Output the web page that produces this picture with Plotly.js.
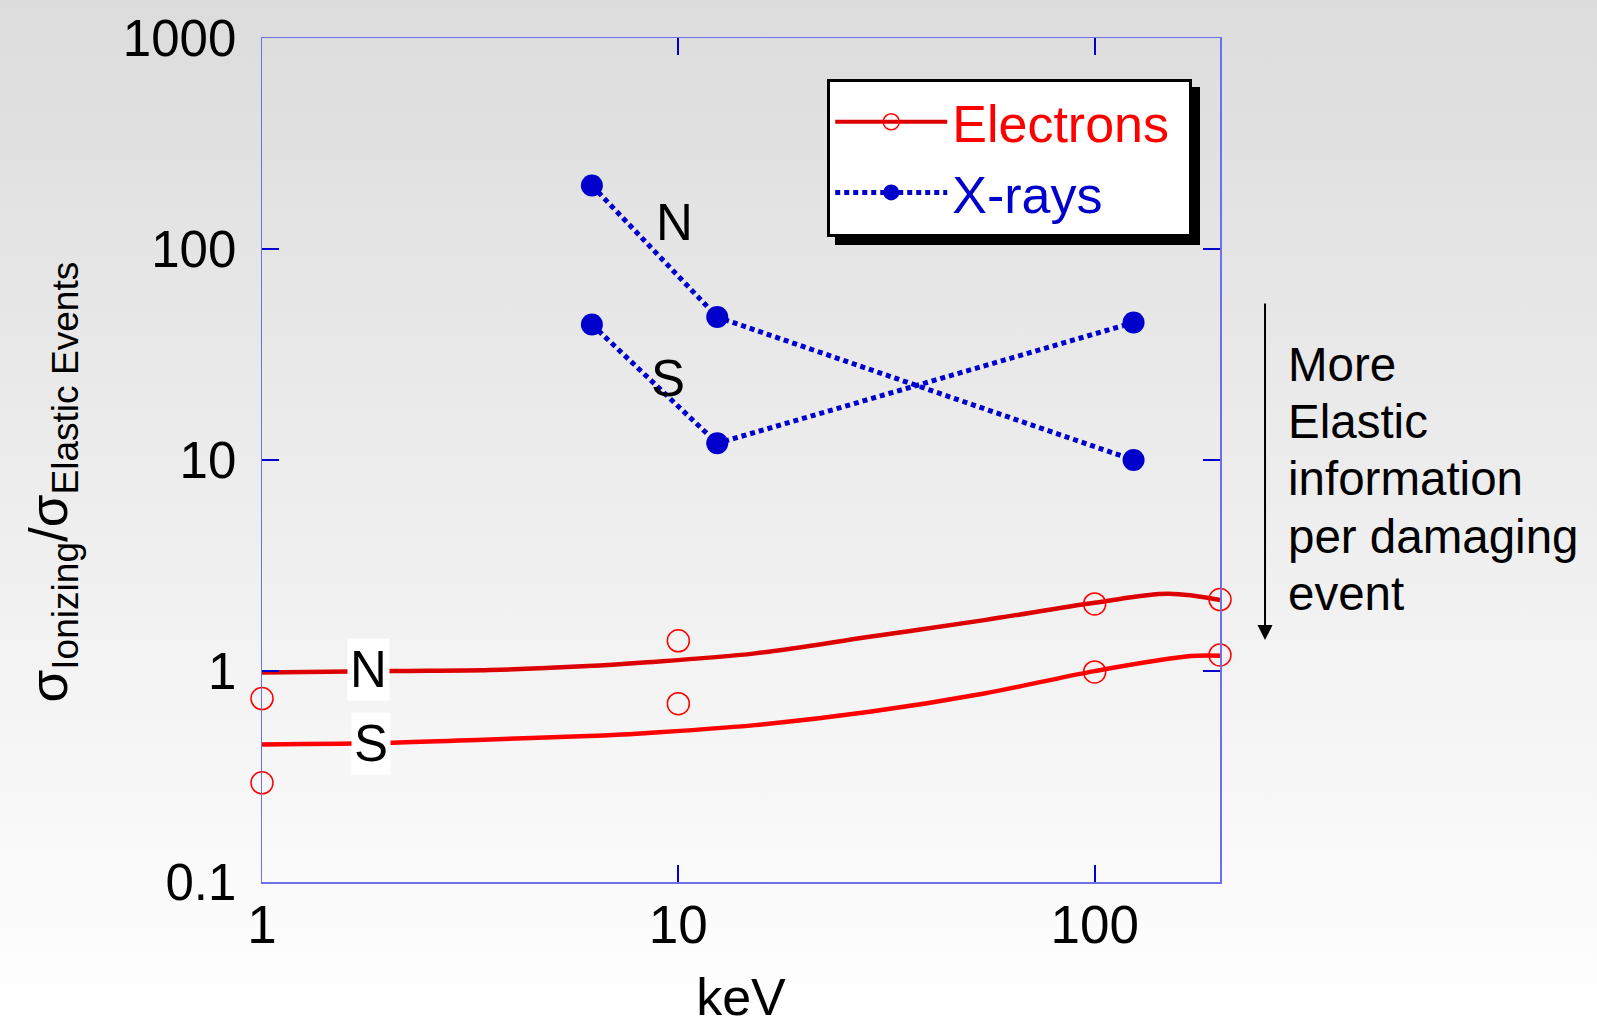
<!DOCTYPE html>
<html><head><meta charset="utf-8">
<script src="https://cdn.plot.ly/plotly-3.0.1.min.js"></script>
<style>
html,body{margin:0;padding:0;}
body{width:1597px;height:1024px;overflow:hidden;background:linear-gradient(to bottom,#dcdcdc 0%,#eeeeee 50%,#ffffff 100%);}
#chart{width:1597px;height:1026px;}
.legend .bg{filter:drop-shadow(8px 8px 0 #000);}
</style></head><body><div id="chart"></div>
<script>
// Electron data points (open circles)
const electronEnergy = [1, 10, 100, 200];
const electronN = [0.74, 1.39, 2.08, 2.18];
const electronS = [0.295, 0.70, 0.99, 1.19];
// Smooth electron curves
const curveEnergyN = [1, 2.06, 3.53, 6.07, 8.09, 15.3, 28.8, 54.3, 100, 150, 200];
const curveN = [0.983, 0.999, 1.01, 1.055, 1.094, 1.212, 1.452, 1.742, 2.104, 2.322, 2.168];
const curveEnergyS = [1, 2.06, 3.53, 6.07, 8.09, 15.3, 28.8, 54.3, 100, 170, 200];
const curveS = [0.449, 0.457, 0.474, 0.492, 0.506, 0.554, 0.641, 0.783, 0.999, 1.177, 1.181];
// X-ray data
const xrayEnergy = [6.2, 12.4, 124];
const xrayN = [200, 47.6, 10];
const xrayS = [43.9, 12.0, 44.8];
// Tick labels
const xTickVals = [1, 10, 100];
const xTickText = ['1', '10', '100'];
const yTickVals = [0.1, 1, 10, 100, 1000];
const yTickText = ['0.1', '1', '10', '100', '1000'];
const sideNoteLines = ['More', 'Elastic', 'information', 'per damaging', 'event'];

const FONT = 'Liberation Sans, Arial, sans-serif';
const RED = '#ff0000', BLUE = '#0000cc';

const traces = [
  {x: curveEnergyN, y: curveN, mode: 'lines', line: {color: '#dd0000', width: 4.5, shape: 'spline', smoothing: 1}, showlegend: false, hoverinfo: 'skip'},
  {x: curveEnergyS, y: curveS, mode: 'lines', line: {color: RED, width: 4.5, shape: 'spline', smoothing: 1}, showlegend: false, hoverinfo: 'skip'},
  {x: electronEnergy, y: electronN, mode: 'markers', marker: {symbol: 'circle-open', size: 22, color: RED, line: {width: 1.5}}, showlegend: false, cliponaxis: false},
  {x: electronEnergy, y: electronS, mode: 'markers', marker: {symbol: 'circle-open', size: 22, color: RED, line: {width: 1.5}}, showlegend: false, cliponaxis: false},
  {x: [null], y: [null], mode: 'lines+markers', name: '<span style="color:#ff0000">Electrons&nbsp;</span>',
   line: {color: '#dd0000', width: 4}, marker: {symbol: 'circle-open', size: 16, color: RED, line: {width: 1.5}}, showlegend: true},
  {x: xrayEnergy, y: xrayN, mode: 'lines+markers', name: '<span style="color:#0000cc">X-rays</span>', legendgroup: 'x',
   line: {color: BLUE, width: 5, dash: '5px,4px'}, marker: {symbol: 'circle', size: 22, color: BLUE}, cliponaxis: false},
  {x: xrayEnergy, y: xrayS, mode: 'lines+markers', name: 'X-rays S', legendgroup: 'x', showlegend: false,
   line: {color: BLUE, width: 5, dash: '5px,4px'}, marker: {symbol: 'circle', size: 22, color: BLUE}, cliponaxis: false}
];

const L = 262, R = 377, T = 38, B = 144;
const annFont = {family: FONT, size: 51, color: '#000'};
const annotations = [
  {x: Math.log10(1.80), y: Math.log10(1.021), text: 'N', showarrow: false, font: annFont, bgcolor: '#ffffff', borderpad: 2},
  {x: Math.log10(1.83), y: Math.log10(0.451), text: 'S', showarrow: false, font: annFont, bgcolor: '#ffffff', borderpad: 2},
  {x: Math.log10(9.77), y: Math.log10(134), text: 'N', showarrow: false, font: annFont},
  {x: Math.log10(9.45), y: Math.log10(24.3), text: 'S', showarrow: false, font: annFont},
  {xref: 'paper', yref: 'paper', x: 1.047, y: 0.2866, text: '', showarrow: true, arrowhead: 2, arrowsize: 1.5, arrowwidth: 2,
   arrowcolor: '#000', ax: 0, ay: -338}
];
const lineYs = [0.6129, 0.5460, 0.4785, 0.4098, 0.3423];
sideNoteLines.forEach((t, i) => annotations.push({
  xref: 'paper', yref: 'paper', x: 1.069, y: lineYs[i], xanchor: 'left', yanchor: 'middle',
  text: t, showarrow: false, font: {family: FONT, size: 47.5, color: '#000'}
}));

const axisCommon = {
  type: 'log', showgrid: false, zeroline: false, showline: true, linecolor: '#6f6fe8', linewidth: 1.5,
  mirror: 'ticks', ticks: 'inside', ticklen: 17, tickwidth: 2, tickcolor: '#0000cc',
  tickmode: 'array', automargin: false
};

const layout = {
  width: 1597, height: 1026,
  margin: {l: L, r: R, t: T, b: B},
  paper_bgcolor: 'rgba(0,0,0,0)', plot_bgcolor: 'rgba(0,0,0,0)',
  font: {family: FONT, color: '#000'},
  xaxis: Object.assign({}, axisCommon, {
    range: [0, Math.log10(200)], tickvals: xTickVals, ticktext: xTickText, ticklabelstandoff: -4,
    tickfont: {family: FONT, size: 53, color: '#000'},
    title: {text: 'keV', font: {family: FONT, size: 52, color: '#000'}, standoff: 70}
  }),
  yaxis: Object.assign({}, axisCommon, {
    range: [-1, 3], tickvals: yTickVals, ticktext: yTickText, ticklabelstandoff: 14,
    tickfont: {family: FONT, size: 51, color: '#000'},
    title: {text: 'σ<sub>Ionizing</sub>/σ<sub>Elastic Events</sub>&nbsp;&nbsp;&nbsp;', font: {family: FONT, size: 53, color: '#000'}, standoff: 38}
  }),
  legend: {x: 0.590, y: 0.952, xanchor: 'left', yanchor: 'top', bgcolor: '#ffffff', bordercolor: '#000', borderwidth: 3,
    font: {family: FONT, size: 52}, itemwidth: 112, tracegroupgap: 0},
  annotations: annotations,
  showlegend: true
};

Plotly.newPlot('chart', traces, layout, {displayModeBar: false, staticPlot: true});
</script></body></html>
